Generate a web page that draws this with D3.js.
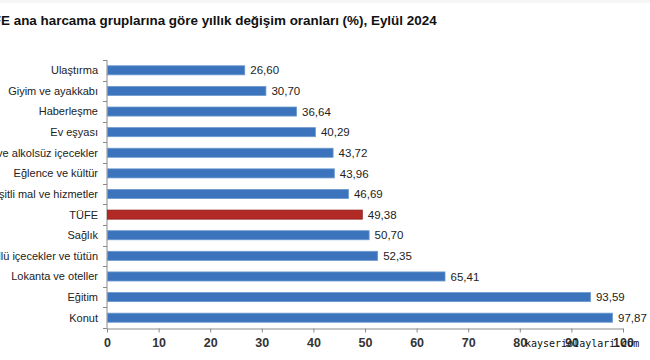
<!DOCTYPE html>
<html><head><meta charset="utf-8">
<script src="https://cdn.jsdelivr.net/npm/d3@7"></script>
<style>
html,body{margin:0;padding:0;background:#fff;overflow:hidden}
svg{display:block;font-family:"Liberation Sans",Arial,sans-serif}
</style></head>
<body>
<svg id="c" width="650" height="360"></svg>
<script>
const titleText = "TÜFE ana harcama gruplarına göre yıllık değişim oranları (%), Eylül 2024";
const categories = ["Ulaştırma","Giyim ve ayakkabı","Haberleşme","Ev eşyası","Gıda ve alkolsüz içecekler","Eğlence ve kültür","Çeşitli mal ve hizmetler","TÜFE","Sağlık","Alkollü içecekler ve tütün","Lokanta ve oteller","Eğitim","Konut"];
const values = [26.60,30.70,36.64,40.29,43.72,43.96,46.69,49.38,50.70,52.35,65.41,93.59,97.87];
const valueLabels = ["26,60","30,70","36,64","40,29","43,72","43,96","46,69","49,38","50,70","52,35","65,41","93,59","97,87"];
const tickValues = [0,10,20,30,40,50,60,70,80,90,100];
const highlight = "TÜFE";
const watermark = "kayseriolaylari.com";

const svg = d3.select("#c");
svg.append("rect").attr("x",0).attr("y",0).attr("width",650).attr("height",3).attr("fill","#f6f6f6");

// Title: the reference shows it cut at the left edge so that only "E ana ..." is visible (x ~1..437)
const fs0 = 13;
const probe = svg.append("text").attr("font-size",fs0).attr("font-weight","bold").text(titleText.slice(3));
const probe2 = svg.append("text").attr("font-size",fs0).attr("font-weight","bold").text(titleText.slice(0,3));
const wVis = probe.node().getComputedTextLength();
const wHid = probe2.node().getComputedTextLength();
probe.remove(); probe2.remove();
const k = wVis > 0 ? 436 / wVis : 1;
svg.append("text").attr("x", 1 - wHid * k).attr("y",25)
  .attr("font-size",fs0 * k).attr("font-weight","bold").attr("fill","#111").text(titleText);

const x = d3.scaleLinear().domain([0,100]).range([107,623]);
const y = d3.scaleBand().domain(categories).range([60,328]).paddingInner(0.56).paddingOuter(0.28);

const axisColor = "#8a8a8a";
svg.append("line").attr("x1",107).attr("x2",107).attr("y1",60).attr("y2",329).attr("stroke",axisColor);
const bounds = d3.range(categories.length+1).map(i => 60 + i*(268/categories.length));
svg.selectAll(".lt").data(bounds).enter().append("line")
  .attr("x1",103).attr("x2",107).attr("y1",d=>Math.round(d)+0.5).attr("y2",d=>Math.round(d)+0.5).attr("stroke",axisColor);

const xAxis = d3.axisBottom(x).tickValues(tickValues).tickSize(4).tickSizeOuter(0).tickFormat(d3.format("d"));
const gx = svg.append("g").attr("transform","translate(0,328.5)").call(xAxis);
gx.select(".domain").attr("stroke",axisColor);
gx.selectAll(".tick line").attr("stroke",axisColor);
gx.selectAll(".tick text").attr("font-size",12.5).attr("font-weight","bold").attr("fill","#333")
  .attr("font-family","'Liberation Sans',Arial,sans-serif").attr("dy","0.95em");

svg.selectAll(".bar").data(categories).enter().append("rect")
  .attr("x",x(0)+0.5).attr("y",d=>y(d)).attr("height",y.bandwidth())
  .attr("width",(d,i)=>x(values[i])-x(0))
  .attr("fill",d=>d===highlight?"#b22a25":"#3b74bc")
  .attr("stroke",d=>d===highlight?"#8e1f1c":"#6d98cf").attr("stroke-width",0.8);

svg.selectAll(".cl").data(categories).enter().append("text")
  .attr("x",98).attr("y",d=>y(d)+y.bandwidth()/2).attr("dy","0.36em")
  .attr("text-anchor","end").attr("font-size",11).attr("fill","#222").text(d=>d);

svg.selectAll(".vl").data(categories).enter().append("text")
  .attr("x",(d,i)=>x(values[i])+6).attr("y",d=>y(d)+y.bandwidth()/2).attr("dy","0.36em")
  .attr("font-size",11.5).attr("fill","#222").text((d,i)=>valueLabels[i]);

svg.append("text").attr("x",525).attr("y",347).attr("font-family","'DejaVu Sans Mono',monospace")
  .attr("font-size",10).attr("fill","#111").text(watermark);
</script>
</body></html>
